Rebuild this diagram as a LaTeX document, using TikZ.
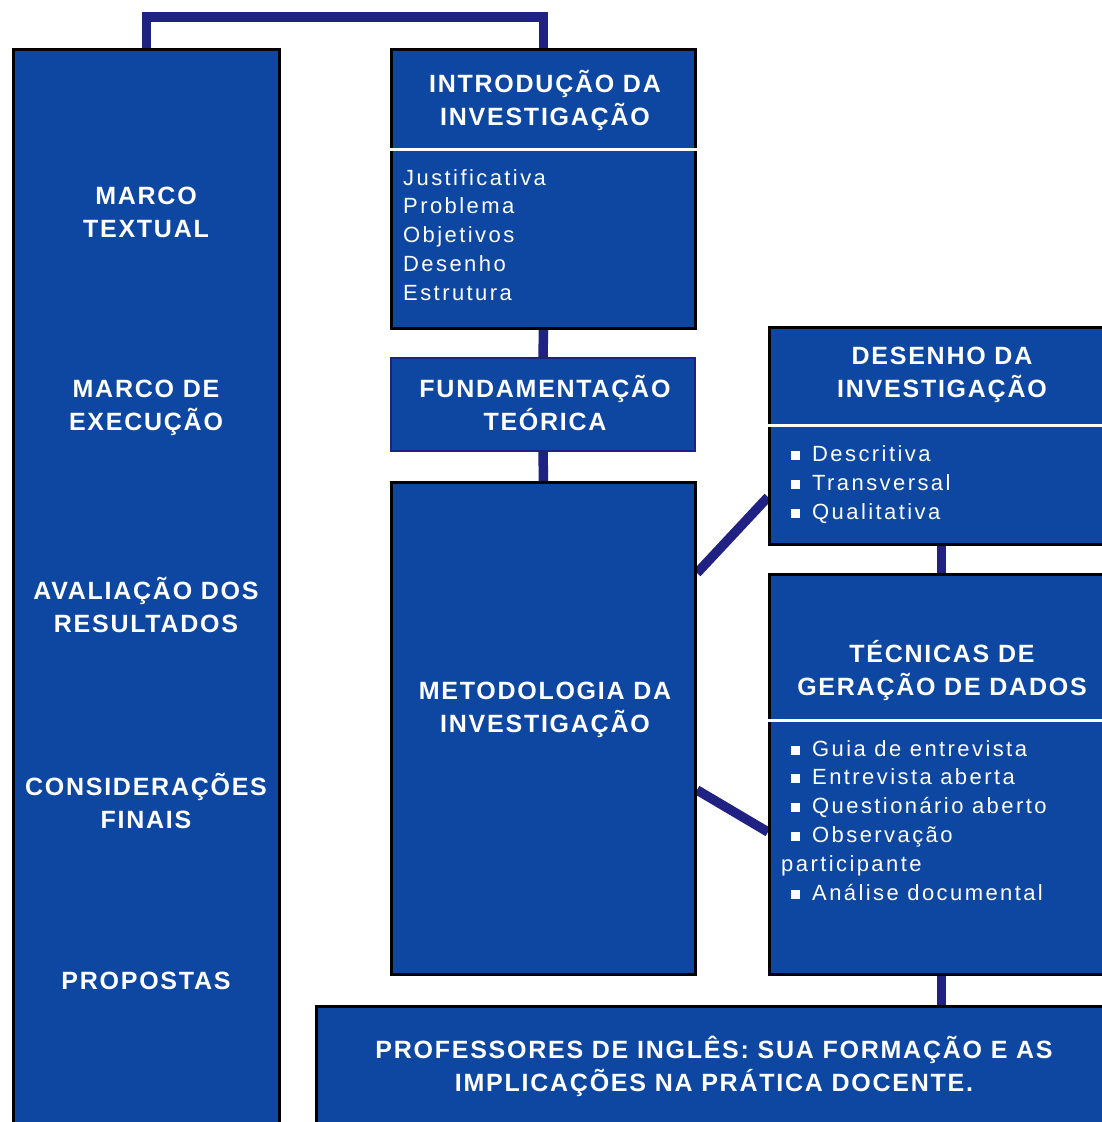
\documentclass[tikz,border=0pt]{standalone}
\usepackage{fontspec}
\setmainfont{Liberation Sans}
\newfontfamily\headfont[LetterSpace=7]{Liberation Sans}
\newfontfamily\bodyfont[LetterSpace=11]{Liberation Sans}
\usepackage{xcolor}
\usepackage{tikz}
\usetikzlibrary{calc,backgrounds}
\definecolor{boxblue}{HTML}{0D47A1}
\definecolor{linknavy}{HTML}{1F2283}
\newcommand{\sqbullet}{\raisebox{1.5pt}{\rule{9pt}{9pt}}}

\begin{document}
\begin{tikzpicture}[x=1pt,y=-1pt,
  box/.style={draw=black,line width=3pt,fill=boxblue,anchor=north west,inner sep=0pt},
  link/.style={draw=linknavy,line width=9.5pt},
  rule/.style={draw=white,line width=3pt},
  head/.style={text=white,align=center,inner sep=0pt,font=\headfont\bfseries\fontsize{25}{33}\selectfont},
  body/.style={text=white,anchor=base west,inner sep=0pt,font=\bodyfont\fontsize{22}{29}\selectfont}]
\useasboundingbox (0,0) rectangle (1102,1122);
\clip (0,0) rectangle (1102,1122);

% boxes
\node[box,minimum width=266pt,minimum height=1110pt] (marco) at (12,48) {};
\node[box,minimum width=304pt,minimum height=279pt] (intro) at (390,48) {};
\node[box,draw=linknavy,line width=2pt,minimum width=304pt,minimum height=93pt] (fund) at (390,357) {};
\node[box,minimum width=304pt,minimum height=492pt] (metod) at (390,481) {};
\node[box,minimum width=344pt,minimum height=217pt] (desenho) at (768,326) {};
\node[box,minimum width=344pt,minimum height=400pt] (tecnicas) at (768,573) {};
\node[box,minimum width=820pt,minimum height=150pt] (prof) at (315,1005) {};

% connectors behind the boxes
\begin{pgfonlayer}{background}
\fill[white] (0,0) rectangle (1102,1122);
\draw[link] (marco.north) -- ++(0,-31) -| (intro.north);
\draw[link] (intro.south) -- (fund.north);
\draw[link] (fund.south) -- (metod.north);
\draw[link] (desenho.south) -- (tecnicas.north);
\draw[link] (tecnicas.south) -- (tecnicas.south |- prof.north);
\draw[link] ([yshift=-92pt]metod.north east) -- ([yshift=-171pt]desenho.north west);
\draw[link] ([yshift=-309pt]metod.north east) -- ([yshift=-259pt]tecnicas.north west);
\end{pgfonlayer}

% dividers
\draw[rule] ([yshift=-101pt]intro.north west) -- ([yshift=-101pt]intro.north east);
\draw[rule] ([yshift=-99pt]desenho.north west) -- ([yshift=-99pt]desenho.north east);
\draw[rule] ([yshift=-147pt]tecnicas.north west) -- ([yshift=-147pt]tecnicas.north east);

% left column
\node[head] (m-textual) at (146,212.5) {MARCO\\TEXTUAL};
\node[head] (m-execucao) at (146,408) {MARCO DE\\EXECUÇÃO};
\node[head] (m-avaliacao) at (146,604.5) {AVALIAÇÃO DOS\\RESULTADOS};
\node[head] (m-consid) at (146,801) {CONSIDERAÇÕES\\FINAIS};
\node[head] (m-propostas) at (146,981) {PROPOSTAS};

% titles
\node[head] (intro-t) at (545,100) {INTRODUÇÃO DA\\INVESTIGAÇÃO};
\node[head] (fund-t) at (545,403) {FUNDAMENTAÇÃO\\TEÓRICA};
\node[head] (metod-t) at (545,710) {METODOLOGIA DA\\INVESTIGAÇÃO};
\node[head] (desenho-t) at (942,375) {DESENHO DA\\INVESTIGAÇÃO};
\node[head] (tecnicas-t) at (942,671) {TÉCNICAS DE\\GERAÇÃO DE DADOS};
\node[head] (prof-t) at (714,1066) {PROFESSORES DE INGLÊS: SUA FORMAÇÃO E AS\\IMPLICAÇÕES NA PRÁTICA DOCENTE.};

% lists
\foreach \w [count=\i] in {Justificativa,Problema,Objetivos,Desenho,Estrutura}
  \node[body] (intro-\i) at (403,{156.25+28.75*\i}) {\w};
\foreach \w [count=\i] in {Descritiva,Transversal,Qualitativa}
  \node[body] (des-\i) at (791,{432+29*\i}) {\sqbullet\hspace{12pt}\w};
\foreach \x/\w [count=\i] in {791/{\sqbullet\hspace{12pt}Guia de entrevista},
    791/{\sqbullet\hspace{12pt}Entrevista aberta},
    791/{\sqbullet\hspace{12pt}Questionário aberto},
    791/{\sqbullet\hspace{12pt}Observação},
    781/participante,
    791/{\sqbullet\hspace{12pt}Análise documental}}
  \node[body] (tec-\i) at (\x,{727.2+28.8*\i}) {\w};
\end{tikzpicture}
\end{document}
